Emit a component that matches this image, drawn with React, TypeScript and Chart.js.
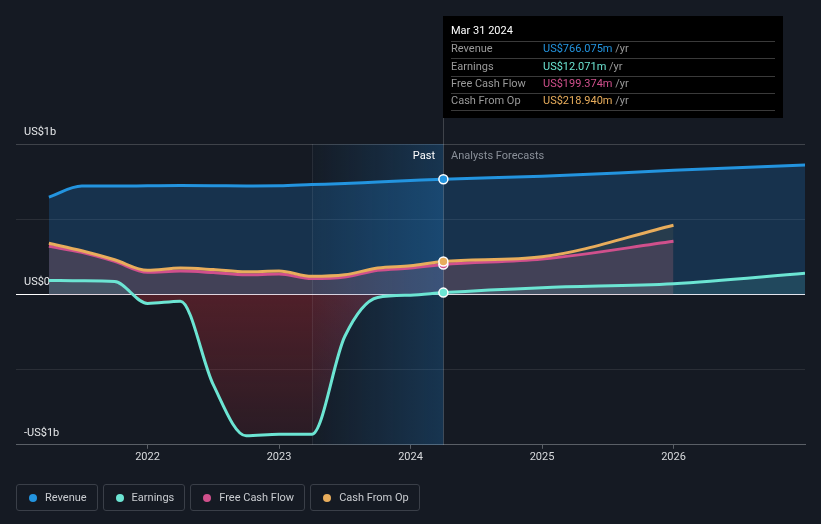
import React, { useEffect, useRef } from 'react';
import { Chart, registerables } from 'chart.js';

Chart.register(...registerables);

// ---- Data (values in US$ billions) ----
const pastDates = [2021.25, 2021.5, 2021.75, 2022, 2022.25, 2022.5, 2022.75, 2023, 2023.25, 2023.5, 2023.75, 2024, 2024.25];
const longForecastDates = [2025, 2026, 2027];
const shortForecastDates = [2025, 2026];
const revenue = [0.647, 0.72, 0.72, 0.722, 0.724, 0.723, 0.721, 0.722, 0.73, 0.737, 0.748, 0.757, 0.766, 0.785, 0.825, 0.86];
const earnings = [0.093, 0.09, 0.085, -0.06, -0.045, -0.6, -0.94, -0.93, -0.93, -0.28, -0.02, -0.005, 0.012, 0.045, 0.071, 0.14];
const freeCashFlow = [0.32, 0.28, 0.22, 0.147, 0.155, 0.145, 0.13, 0.135, 0.105, 0.115, 0.16, 0.175, 0.199, 0.235, 0.353];
const cashFromOp = [0.34, 0.29, 0.23, 0.16, 0.175, 0.165, 0.15, 0.155, 0.12, 0.13, 0.175, 0.19, 0.219, 0.25, 0.46];

const xTickYears = [2022, 2023, 2024, 2025, 2026];
const yLabels: Record<string, string> = { '1': 'US$1b', '0': 'US$0', '-1': '-US$1b' };

const pastStart = 2023.25;
const hoverDate = 2024.25;
const tooltipTitle = 'Mar 31 2024';
const seriesNames = ['Revenue', 'Earnings', 'Free Cash Flow', 'Cash From Op'];
const tooltipValues = ['US$766.075m', 'US$12.071m', 'US$199.374m', 'US$218.940m'];
const colors = ['#2394df', '#6ce5d3', '#d0508c', '#e8ad5c'];

const BG = '#151a23';
const FONT = 'Roboto, "Noto Sans", sans-serif';

const toPoints = (dates: number[], vals: number[]) => dates.map((d, i) => ({ x: d, y: vals[i] }));
const longDates = [...pastDates, ...longForecastDates];
const shortDates = [...pastDates, ...shortForecastDates];
const hoverIdx = pastDates.indexOf(hoverDate);

function pointRadii(n: number) {
  return Array.from({ length: n }, (_, i) => (i === hoverIdx ? 4.5 : 0));
}

const overlayPlugin = {
  id: 'overlay',
  beforeDatasetsDraw(chart: any) {
    const { ctx, chartArea, scales } = chart;
    const x = scales.x;
    const x0 = x.getPixelForValue(pastStart);
    const x1 = x.getPixelForValue(hoverDate);
    ctx.save();
    const g = ctx.createLinearGradient(x0, 0, x1, 0);
    g.addColorStop(0, 'rgba(33,150,243,0.02)');
    g.addColorStop(1, 'rgba(33,150,243,0.22)');
    ctx.fillStyle = g;
    ctx.fillRect(x0, chartArea.top, x1 - x0, chartArea.bottom - chartArea.top);
    ctx.strokeStyle = 'rgba(255,255,255,0.08)';
    ctx.lineWidth = 1;
    ctx.beginPath();
    ctx.moveTo(Math.round(x0) + 0.5, chartArea.top);
    ctx.lineTo(Math.round(x0) + 0.5, chartArea.bottom);
    ctx.stroke();
    ctx.strokeStyle = 'rgba(255,255,255,0.18)';
    ctx.beginPath();
    ctx.moveTo(Math.round(x1) + 0.5, 16);
    ctx.lineTo(Math.round(x1) + 0.5, chartArea.bottom);
    ctx.stroke();
    ctx.restore();
  },
  afterDraw(chart: any) {
    const { ctx, chartArea, scales } = chart;
    const x1 = Math.round(scales.x.getPixelForValue(hoverDate));
    ctx.save();
    ctx.font = `11px ${FONT}`;
    ctx.textBaseline = 'middle';
    ctx.textAlign = 'right';
    ctx.fillStyle = '#ffffff';
    ctx.fillText('Past', x1 - 8, chartArea.top + 12);
    ctx.textAlign = 'left';
    ctx.fillStyle = '#8a9099';
    ctx.fillText('Analysts Forecasts', x1 + 8, chartArea.top + 12);

    // tooltip box
    const bx = x1;
    const by = 16;
    const bw = 340;
    const bh = 102;
    ctx.fillStyle = '#000000';
    ctx.fillRect(bx, by, bw, bh);
    ctx.fillStyle = '#ffffff';
    ctx.font = `11px ${FONT}`;
    ctx.fillText(tooltipTitle, bx + 8, by + 15);
    const lineYs = [41.5, 58.5, 76.5, 93.5, 110.5];
    ctx.strokeStyle = '#3a3a3a';
    ctx.lineWidth = 1;
    lineYs.forEach((ly) => {
      ctx.beginPath();
      ctx.moveTo(bx + 8, ly);
      ctx.lineTo(bx + 332, ly);
      ctx.stroke();
    });
    const rowYs = [49.5, 67, 84.5, 101.5];
    seriesNames.forEach((name, i) => {
      ctx.fillStyle = '#9a9a9a';
      ctx.fillText(name, bx + 8, rowYs[i]);
      ctx.fillStyle = colors[i];
      ctx.fillText(tooltipValues[i], bx + 100, rowYs[i]);
      const w = ctx.measureText(tooltipValues[i]).width;
      ctx.fillStyle = '#9a9a9a';
      ctx.fillText(' /yr', bx + 100 + w, rowYs[i]);
    });
    ctx.restore();
  },
};

function ChartView() {
  const ref = useRef<HTMLCanvasElement | null>(null);
  useEffect(() => {
    if (!ref.current) return;
    const lineBase = {
      borderWidth: 3,
      fill: 'origin',
      cubicInterpolationMode: 'monotone' as const,
      pointBorderColor: '#ffffff',
      pointBorderWidth: 1.5,
      pointHoverRadius: 0,
    };
    const chart = new Chart(ref.current, {
      type: 'line',
      data: {
        datasets: [
          {
            ...lineBase,
            label: seriesNames[1],
            data: toPoints(longDates, earnings),
            borderColor: colors[1],
            backgroundColor: 'rgba(108,229,211,0.12)',
            pointBackgroundColor: colors[1],
            pointRadius: pointRadii(longDates.length),
            fill: { target: 'origin', above: 'rgba(108,229,211,0.12)', below: 'rgba(200,40,50,0.25)' },
          },
          {
            ...lineBase,
            label: seriesNames[3],
            data: toPoints(shortDates, cashFromOp),
            borderColor: colors[3],
            backgroundColor: 'rgba(232,173,92,0.08)',
            pointBackgroundColor: colors[3],
            pointRadius: pointRadii(shortDates.length),
          },
          {
            ...lineBase,
            label: seriesNames[2],
            data: toPoints(shortDates, freeCashFlow),
            borderColor: colors[2],
            backgroundColor: 'rgba(208,80,140,0.16)',
            pointBackgroundColor: colors[2],
            pointRadius: pointRadii(shortDates.length),
          },
          {
            ...lineBase,
            label: seriesNames[0],
            data: toPoints(longDates, revenue),
            borderColor: colors[0],
            backgroundColor: 'rgba(33,150,243,0.2)',
            pointBackgroundColor: colors[0],
            pointRadius: pointRadii(longDates.length),
          },
        ],
      },
      options: {
        animation: false,
        responsive: false,
        maintainAspectRatio: false,
        events: [],
        layout: { padding: { left: 0, right: 16, top: 144, bottom: 58 } },
        plugins: {
          legend: { display: false },
          tooltip: { enabled: false },
          filler: { drawTime: 'beforeDatasetsDraw' },
        },
        scales: {
          x: {
            type: 'linear',
            min: 2021,
            max: 2027,
            afterBuildTicks: (s: any) => {
              s.ticks = xTickYears.map((v) => ({ value: v }));
            },
            ticks: {
              color: '#d8dadd',
              font: { size: 11, family: FONT },
              padding: 2,
              autoSkip: false,
              maxRotation: 0,
              callback: (v: any) => String(v),
            },
            grid: { drawOnChartArea: false, drawTicks: true, tickLength: 4, color: '#5a5f66' },
            border: { color: '#5a5f66' },
          },
          y: {
            min: -1,
            max: 1,
            ticks: {
              stepSize: 0.5,
              mirror: true,
              padding: 8,
              labelOffset: -12,
              color: '#e6e8ea',
              font: { size: 11, family: FONT },
              callback: (v: any) => yLabels[String(v)] ?? '',
            },
            grid: {
              drawTicks: false,
              color: (c: any) => (c.tick && c.tick.value === 0 ? '#ffffff' : c.tick && c.tick.value === 1 ? 'rgba(255,255,255,0.18)' : 'rgba(255,255,255,0.09)'),
            },
            border: { display: false },
          },
        },
      },
      plugins: [overlayPlugin],
    });
    // gradient for negative earnings fill
    const ys = chart.scales.y;
    const top = ys.getPixelForValue(0);
    const bot = ys.getPixelForValue(-1);
    const g = chart.ctx.createLinearGradient(0, top, 0, bot);
    g.addColorStop(0, 'rgba(205,45,55,0.32)');
    g.addColorStop(1, 'rgba(205,45,55,0.10)');
    (chart.data.datasets[0] as any).fill = { target: 'origin', above: 'rgba(108,229,211,0.12)', below: g };
    chart.update();
    return () => chart.destroy();
  }, []);
  return <canvas ref={ref} width={821} height={524} style={{ position: 'absolute', left: 0, top: 0, width: 821, height: 524 }} />;
}

function Legend() {
  return (
    <div style={{ position: 'absolute', left: 16, top: 484, display: 'flex', gap: 5 }}>
      {seriesNames.map((n, i) => (
        <div
          key={n}
          style={{
            height: 27,
            boxSizing: 'border-box',
            border: '1px solid #3a3f48',
            borderRadius: 3,
            display: 'flex',
            alignItems: 'center',
            padding: '0 10px 0 12px',
            color: '#c9ccd0',
            fontFamily: FONT,
            fontSize: 11,
          }}
        >
          <span style={{ width: 8, height: 8, borderRadius: 4, background: colors[i], display: 'inline-block', marginRight: 8 }} />
          {n}
        </div>
      ))}
    </div>
  );
}

export default function App() {
  return (
    <div style={{ position: 'fixed', left: 0, top: 0, width: 821, height: 524, background: BG, overflow: 'hidden' }}>
      <ChartView />
      <Legend />
    </div>
  );
}
